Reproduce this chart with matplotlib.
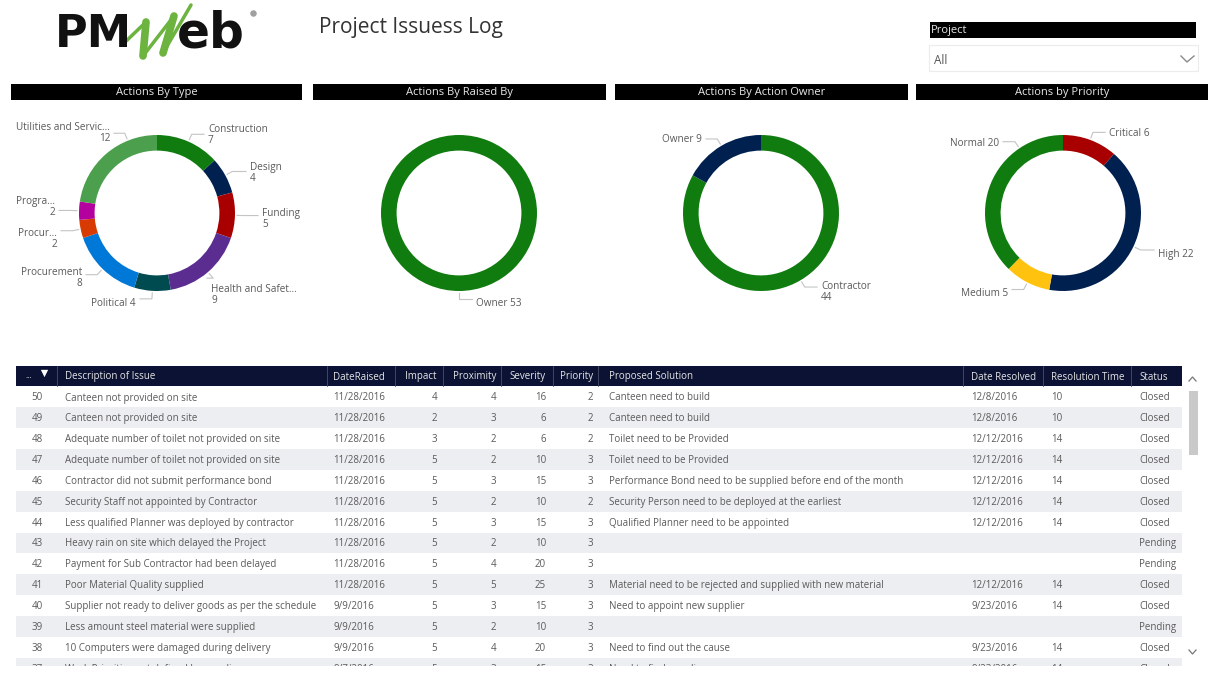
import math
import matplotlib
matplotlib.use('Agg')
import matplotlib.pyplot as plt
from matplotlib.patches import Rectangle

plt.rcParams['font.family'] = ['Open Sans', 'DejaVu Sans']

GREEN = '#107C10'
NAVY = '#002050'
RED = '#A80000'
PURPLE = '#5C2D91'
TEAL = '#004B50'
BLUE = '#0078D7'
ORANGE = '#D83B01'
MAGENTA = '#B4009E'
LGREEN = '#4C9F4C'
YELLOW = '#FFC20E'
TEXT = '#5a5a5a'

# donut data
type_labels = ['Construction\n7', 'Design\n4', 'Funding\n5', 'Health and Safet...\n9', 'Political 4',
               'Procurement\n8', 'Procur...\n2', 'Progra...\n2', 'Utilities and Servic...\n12']
type_values = [7, 4, 5, 9, 4, 8, 2, 2, 12]
type_colors = [GREEN, NAVY, RED, PURPLE, TEAL, BLUE, ORANGE, MAGENTA, LGREEN]
# label x, label y, alignment, angle of the leader on the ring (None = middle of the slice)
type_pos = [(208, 135, 'left', None), (250, 173, 'left', None), (262, 219, 'left', None),
            (211, 295, 'left', None), (136, 304, 'right', None), (82, 278, 'right', None),
            (57, 239, 'right', None), (55, 207, 'right', None), (110, 133, 'right', -22)]

raised_labels = ['Owner 53']
raised_values = [53]
raised_colors = [GREEN]
raised_pos = [(476, 304, 'left', None)]

owner_labels = ['Contractor\n44', 'Owner 9']
owner_values = [44, 9]
owner_colors = [GREEN, NAVY]
owner_pos = [(821, 292, 'left', None), (702, 140, 'right', None)]

priority_labels = ['Critical 6', 'High 22', 'Medium 5', 'Normal 20']
priority_values = [6, 22, 5, 20]
priority_colors = [RED, NAVY, YELLOW, GREEN]
priority_pos = [(1109, 133, 'left', None), (1158, 254, 'left', None),
                (1008, 294, 'right', None), (999, 143, 'right', -34)]

# table data
ids = [50, 49, 48, 47, 46, 45, 44, 43, 42, 41, 40, 39, 38, 37]
descriptions = ['Canteen not provided on site', 'Canteen not provided on site',
                'Adequate number of toilet not provided on site', 'Adequate number of toilet not provided on site',
                'Contractor did not submit performance bond', 'Security Staff not appointed by Contractor',
                'Less qualified Planner was deployed by contractor', 'Heavy rain on site which delayed the Project',
                'Payment for Sub Contractor had been delayed', 'Poor Material Quality supplied',
                'Supplier not ready to deliver goods as per the schedule', 'Less amount steel material were supplied',
                '10 Computers were damaged during delivery', 'Work Priorities not defined by supplier']
raised = ['11/28/2016'] * 10 + ['9/9/2016'] * 3 + ['9/7/2016']
impact = [4, 2, 3, 5, 5, 5, 5, 5, 5, 5, 5, 5, 5, 5]
proximity = [4, 3, 2, 2, 3, 2, 3, 2, 4, 5, 3, 2, 4, 3]
severity = [16, 6, 6, 10, 15, 10, 15, 10, 20, 25, 15, 10, 20, 15]
priority = [2, 2, 2, 3, 3, 2, 3, 3, 3, 3, 3, 3, 3, 3]
solutions = ['Canteen need to build', 'Canteen need to build', 'Toilet need to be Provided',
             'Toilet need to be Provided', 'Performance Bond need to be supplied before end of the month',
             'Security Person need to be deployed at the earliest', 'Qualified Planner need to be appointed',
             '', '', 'Material need to be rejected and supplied with new material',
             'Need to appoint new supplier', '', 'Need to find out the cause', 'Need to find supplier']
resolved = ['12/8/2016', '12/8/2016', '12/12/2016', '12/12/2016', '12/12/2016', '12/12/2016', '12/12/2016',
            '', '', '12/12/2016', '9/23/2016', '', '9/23/2016', '9/23/2016']
res_time = [10, 10, 14, 14, 14, 14, 14, '', '', 14, 14, '', 14, 14]
status = ['Closed'] * 7 + ['Pending', 'Pending', 'Closed', 'Closed', 'Pending', 'Closed', 'Closed']
headers = ['Description of Issue', 'DateRaised', 'Impact', 'Proximity', 'Severity', 'Priority',
           'Proposed Solution', 'Date Resolved', 'Resolution Time', 'Status']

W, H = 1211, 673
fig = plt.figure(figsize=(W / 100, H / 100), dpi=100)
bg = fig.add_axes([0, 0, 1, 1])
bg.set_xlim(0, W)
bg.set_ylim(H, 0)
bg.axis('off')


def title_bar(x0, x1, y0, y1, label, ha='center', size=8.0):
    bg.add_patch(Rectangle((x0, y0), x1 - x0, y1 - y0, color='black', lw=0))
    tx = (x0 + x1) / 2 if ha == 'center' else x0 + 1
    bg.text(tx, (y0 + y1) / 2 + 1, label, color='#e8e8e8', fontsize=size, ha=ha, va='center')


def donut(cx, cy, values, colors, labels, pos):
    r = 78
    ax = fig.add_axes([(cx - r) / W, 1 - (cy + r) / H, 2 * r / W, 2 * r / H])
    ax.pie(values, colors=colors, startangle=90, counterclock=False, radius=1,
           wedgeprops={'width': 0.2, 'linewidth': 0})
    ax.set_xlim(-1, 1)
    ax.set_ylim(-1, 1)
    total = sum(values)
    cum = 0
    for v, lab, (lx, ly, ha, angle) in zip(values, labels, pos):
        mid = (cum + v / 2) / total * 2 * math.pi
        cum += v
        if angle is not None:
            mid = math.radians(angle)
        sx, sy = cx + (r + 2) * math.sin(mid), cy - (r + 2) * math.cos(mid)
        ex, ey = cx + (r + 8) * math.sin(mid), cy - (r + 8) * math.cos(mid)
        end = lx - 4 if ha == 'left' else lx + 4
        bg.plot([sx, ex, end], [sy, ey, ey], color='#c4c4c4', lw=0.8)
        bg.text(lx, ly, lab, color=TEXT, fontsize=7.2, ha=ha, va='center', multialignment=ha, linespacing=1.0)


# header area
bg.text(55, 47, 'PM', color='#111111', fontsize=32, fontweight='bold', family='DejaVu Sans', ha='left', va='baseline')
bg.text(177, 47, 'eb', color='#111111', fontsize=35, fontweight='bold', family='DejaVu Sans', ha='left', va='baseline')
logo_x = [122, 146, 143, 174, 163, 191]
logo_y = [45, 22, 56, 16, 53, 5]
logo_w = [2.5, 5.5, 2.5, 5.5, 2.5]
for k in range(5):
    bg.plot(logo_x[k:k + 2], logo_y[k:k + 2], color='#6CB33F', lw=logo_w[k], solid_capstyle='round')
bg.scatter([253], [13], s=22, color='#a0a0a0', lw=0)
bg.text(319, 28, 'Project Issuess Log', color='#333333', fontsize=15, ha='left', va='center')

title_bar(930, 1196, 22, 38, 'Project', ha='left')
bg.add_patch(Rectangle((929, 45), 269, 26, fc='white', ec='#ececec', lw=0.8))
bg.text(934, 61, 'All', color='#555555', fontsize=8.5, ha='left', va='center')
bg.plot([1181, 1187, 1194], [56, 62, 56], color='#8a8a8a', lw=1)

title_bar(11, 302, 84, 100, 'Actions By Type')
title_bar(313, 606, 84, 100, 'Actions By Raised By')
title_bar(615, 908, 84, 100, 'Actions By Action Owner')
title_bar(916, 1208, 84, 100, 'Actions by Priority')

donut(157, 213, type_values, type_colors, type_labels, type_pos)
donut(459, 213, raised_values, raised_colors, raised_labels, raised_pos)
donut(761, 213, owner_values, owner_colors, owner_labels, owner_pos)
donut(1063, 213, priority_values, priority_colors, priority_labels, priority_pos)

# table
tx0, tx1 = 16, 1182
bg.add_patch(Rectangle((tx0, 366), tx1 - tx0, 20, color='#0B1233', lw=0))
for sep in [57, 327, 395, 443, 501, 553, 598, 963, 1043, 1131]:
    bg.plot([sep, sep], [366, 386], color='#4a5068', lw=0.6)
bg.text(29, 377, '...', color='#e8e8e8', fontsize=6, ha='center', va='center')
bg.scatter([44], [373], marker='v', s=28, color='white', lw=0)

header_x = [65, 333, 437, 496, 546, 593, 609, 971, 1051, 1139]
header_ha = ['left', 'left', 'right', 'right', 'right', 'right', 'left', 'left', 'left', 'left']
for x, ha, label in zip(header_x, header_ha, headers):
    bg.text(x, 377, label, color='#e6e6e6', fontsize=7.0, ha=ha, va='center')

clip = Rectangle((0, 386), W, 280, transform=bg.transData, fc='none', lw=0)
bg.add_patch(clip)
row_h = 20.85
for i in range(len(ids)):
    yc = 397 + i * row_h
    if i % 2 == 1:
        band = bg.add_patch(Rectangle((tx0, yc - row_h / 2), tx1 - tx0, row_h, color='#EDEEF1', lw=0))
        band.set_clip_path(clip)
    cells = [(43, ids[i], 'right'), (65, descriptions[i], 'left'), (333, raised[i], 'left'),
             (437, impact[i], 'right'), (496, proximity[i], 'right'), (546, severity[i], 'right'),
             (593, priority[i], 'right'), (609, solutions[i], 'left'), (971, resolved[i], 'left'),
             (1051, res_time[i], 'left'), (1139, status[i], 'left')]
    for x, val, ha in cells:
        t = bg.text(x, yc + 1, str(val), color=TEXT, fontsize=7.05, ha=ha, va='center', clip_on=True)
        t.set_clip_path(clip)

# scrollbar
bg.plot([1189, 1192.5, 1196], [381, 377, 381], color='#777777', lw=0.9)
bg.plot([1189, 1192.5, 1196], [650, 654, 650], color='#777777', lw=0.9)
bg.add_patch(Rectangle((1189, 391), 9, 64, color='#C9C9C9', lw=0))

fig.savefig('out.png', dpi=100)
